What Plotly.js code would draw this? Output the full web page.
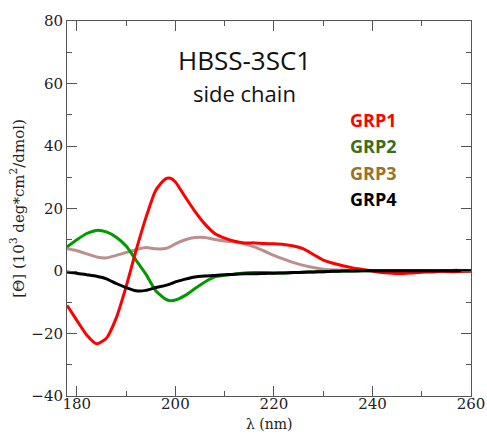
<!DOCTYPE html>
<html>
<head>
<meta charset="utf-8">
<script src="https://cdn.plot.ly/plotly-3.0.1.min.js"></script>
<style>html,body{margin:0;padding:0;background:#fff;}#chart{width:487px;height:434px;}</style>
</head>
<body>
<div id="chart"></div>
<script>
const wavelength = [178,180,182,184,186,188,190,192,194,196,198,199,200,202,204,206,208,210,212,214,216,218,220,222,224,226,228,230,232,234,236,238,240,242,244,246,248,250,252,254,256,258,260];
const grp1 = [-11,-15.8,-20.5,-23.3,-21.5,-15,-5,6.5,17,25.8,29.5,29.7,28.5,23.7,19,15,12,10.5,9.5,9,9,8.8,8.7,8.5,8,7.1,5.3,3.5,2.5,1.7,1,0.5,0,-0.5,-0.7,-0.8,-0.6,-0.4,-0.3,-0.1,-0.2,-0.1,0];
const grp2 = [7.7,10,12,13,12.5,10.8,8,3.5,-1,-6.3,-9,-9.5,-9.3,-7.8,-5.6,-3.5,-1.9,-1.4,-1,-0.6,-0.5,-0.5,-0.6,-0.6,-0.5,-0.4,-0.3,-0.2,-0.1,0,0,0.1,0.1,0.1,0.1,0.1,0.1,0.1,0.1,0.1,0.2,0.2,0.2];
const grp3 = [7.1,6.5,5.5,4.5,4.2,5,5.9,6.8,7.5,7.1,7.2,7.8,8.7,10,10.7,10.7,10.1,9.6,9.3,8.7,7.7,6.4,5,3.8,2.7,1.8,1.1,0.6,0.4,0.3,0.2,0.15,0.1,0.1,0.1,0.05,0,0,0,0,0,0,0];
const grp4 = [-0.3,-0.7,-1.2,-1.7,-2.5,-4,-5.3,-6.3,-6.2,-5.3,-4.6,-4.1,-3.5,-2.6,-1.9,-1.6,-1.4,-1.2,-1,-0.9,-0.9,-0.8,-0.7,-0.6,-0.5,-0.4,-0.3,-0.2,-0.1,0,0,0.05,0.1,0.1,0.1,0.1,0.1,0.1,0.1,0.1,0.1,0.1,0.1];
const names = ["GRP1","GRP2","GRP3","GRP4"];
const lineColors = ["#ff0000","#009900","#bc8f8f","#000000"];
const labelColors = ["#ff0000","#3a6e1a","#9a7127","#000000"];
const series = [grp1, grp2, grp3, grp4];
const order = [2,1,0,3];

const serif = "DejaVu Serif";

const traces = order.map(i => ({
  x: wavelength, y: series[i], type: "scatter", mode: "lines", name: names[i],
  line: {color: lineColors[i], width: 3, shape: "spline", smoothing: 0.6}
}));

const axisCommon = {
  showline: true, linecolor: "#555", linewidth: 1, mirror: "ticks",
  ticks: "inside", ticklen: 10, tickcolor: "#555", tickwidth: 1,
  showgrid: false, zeroline: false,
  tickfont: {family: serif, size: 15, color: "#222"},
};

const annotations = [
  {text: "HBSS-3SC1", x: 0.44, y: 0.896, font: {size: 26}},
  {text: "side chain", x: 0.44, y: 0.808, font: {size: 22}},
].map(a => ({xref: "paper", yref: "paper", showarrow: false, xanchor: "center", yanchor: "middle",
  text: a.text, x: a.x, y: a.y, font: Object.assign({family: "Open Sans", color: "#111"}, a.font)}));

names.forEach((n, i) => annotations.push({
  xref: "paper", yref: "paper", showarrow: false, xanchor: "left", yanchor: "middle",
  x: 0.695, y: 0.735 - i * 0.0695, text: n,
  font: {family: "Open Sans", size: 18, weight: "bold", color: labelColors[i]}
}));

annotations.push({
  xref: "paper", yref: "paper", showarrow: false, xanchor: "center", yanchor: "bottom",
  x: 0.5, y: -0.1013, text: "λ (nm)",
  font: {family: serif, size: 14, color: "#222"}
});

const layout = {
  width: 487, height: 434,
  margin: {l: 67, r: 16, t: 21, b: 38},
  paper_bgcolor: "#fff", plot_bgcolor: "#fff",
  showlegend: false,
  xaxis: Object.assign({}, axisCommon, {
    range: [178, 260], tickvals: [180,200,220,240,260], ticklabelstandoff: -6,
    minor: {tickvals: [190,210,230,250], ticklen: 5, ticks: "inside", tickcolor: "#555"}
  }),
  yaxis: Object.assign({}, axisCommon, {
    range: [-40, 80], tickvals: [-40,-20,0,20,40,60,80],
    minor: {tickvals: [-30,-10,10,30,50,70], ticklen: 5, ticks: "inside", tickcolor: "#555"},
    title: {text: "[Θ] (10<sup>3</sup> deg*cm<sup>2</sup>/dmol)", font: {family: serif, size: 15, color: "#222"}, standoff: 3}
  }),
  annotations: annotations
};

Plotly.newPlot("chart", traces, layout, {staticPlot: true, displayModeBar: false});
</script>
</body>
</html>
